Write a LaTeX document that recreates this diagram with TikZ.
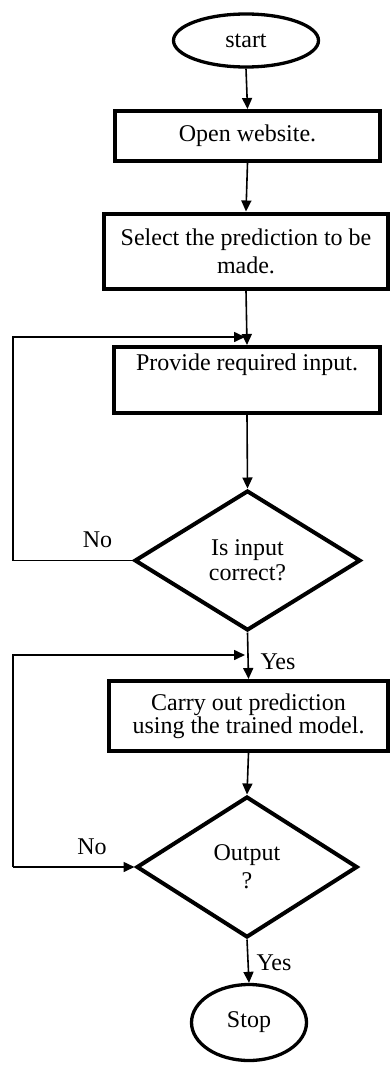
\documentclass[tikz,border=0pt]{standalone}
\usepackage{fontspec}
\setmainfont{Liberation Serif}
\usetikzlibrary{shapes.geometric,arrows.meta}
\begin{document}
\begin{tikzpicture}[x=1pt,y=-1pt,
  every node/.style={font=\fontsize{24}{28}\selectfont, inner sep=0pt},
  process/.style={draw, line width=4pt, rectangle, align=center},
  terminal/.style={draw, line width=3.3pt, ellipse, align=center},
  decision/.style={draw, line width=4pt, diamond, align=center},
  flow/.style={line width=1.6pt, -{Triangle[length=11pt,width=10pt]}},
  lbl/.style={}]
% canvas
\fill[white] (0,0) rectangle (391,1065);
\useasboundingbox (0,0) rectangle (391,1065);

% main column
\node[terminal, minimum width=145pt, minimum height=53pt] (start) at (246,40.5) {start};
\node[process, minimum width=265pt, minimum height=50pt] (open) at (247.5,136) {Open website.};
\node[process, minimum width=284pt, minimum height=75pt] (select) at (246,251) {Select the prediction to be\\made.};
\node[process, minimum width=266pt, minimum height=66pt, text height=17pt, text depth=36pt] (provide) at (247,380) {Provide required input.};
\node[decision, minimum width=226pt, minimum height=140pt, yshift=0pt] (check) at (247.5,560.5) {\raisebox{-4pt}{\shortstack{Is input\\[1pt]correct?}}};
\node[process, minimum width=279pt, minimum height=70pt, font=\fontsize{24}{23}\selectfont] (carry) at (248.5,716) {Carry out prediction\\using the trained model.};
\node[decision, minimum width=221pt, minimum height=141pt] (output) at (247,867) {Output\\?};
\node[terminal, minimum width=115pt, minimum height=76pt] (stop) at (249,1022.5) {Stop};

% branch labels
\node[lbl] (no1) at (97.5,540) {No};
\node[lbl] (yes1) at (278,662) {Yes};
\node[lbl] (no2) at (92,847) {No};
\node[lbl] (yes2) at (274,963) {Yes};

% forward flow
\draw[flow] (start.south) -- (open.north);
\draw[flow] (open.south) -- (select.north);
\draw[flow] (select.south) -- (provide.north);
\draw[flow] (provide.south) -- (check.north);
\draw[flow] (check.south) -- (carry.north);
\draw[flow] (carry.south) -- (output.north);
\draw[flow] (output.south) -- (stop.north);

% loop back when the input is not correct
\coordinate (c1) at (13,337);
\coordinate (m1) at (245,337);
\draw[flow] (check.west) -| (c1) -- (m1);

% loop back when there is no output
\coordinate (c2) at (13,655);
\coordinate (m2) at (245,655);
\draw[flow] (c2 |- output.west) -- (output.west);
\draw[flow] (c2 |- output.west) -- (c2) -- (m2);
\end{tikzpicture}
\end{document}
